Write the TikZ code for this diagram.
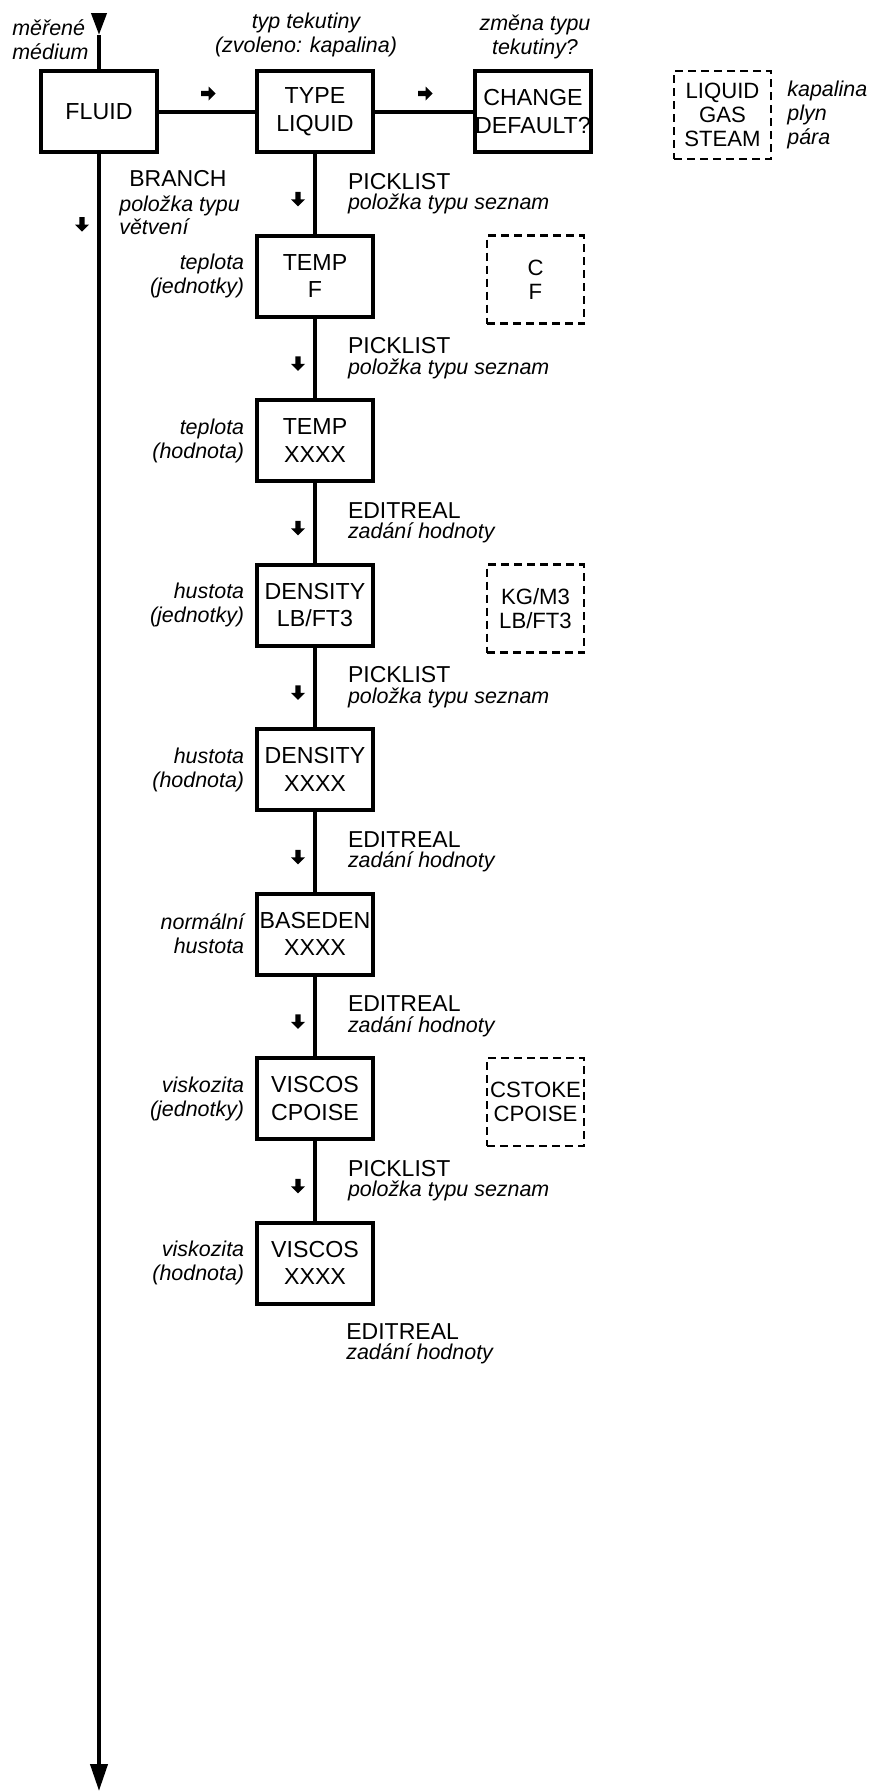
\documentclass[tikz,border=0pt]{standalone}
\usepackage{fontspec}
\setmainfont{Liberation Sans}
\usetikzlibrary{arrows.meta, positioning, shapes.arrows}
\newcommand{\itfont}{\itshape\fontsize{12.2pt}{13.6pt}\selectfont}
\newcommand{\flowtxt}[2]{#1\\{\itfont #2}}

\begin{document}
\begin{tikzpicture}[node distance=1.67cm,
    menubox/.style={draw, line width=0.08cm, outer sep=0pt, minimum width=2.32cm,
        minimum height=1.62cm, inner sep=0pt, align=center,
        font=\fontsize{13.2pt}{15.6pt}\selectfont},
    optbox/.style={draw, dash pattern=on 0.16cm off 0.1cm, line width=1.2pt,
        outer sep=0pt, minimum width=1.94cm, minimum height=1.76cm, inner sep=0pt,
        align=center, font=\fontsize{12.6pt}{13.7pt}\selectfont},
    sidenote/.style={inner sep=0pt, font=\itfont},
    flowlbl/.style={inner sep=0pt, align=left,
        font=\fontsize{13.1pt}{11.5pt}\selectfont},
    flowptr/.style={single arrow, fill=black, draw=none, inner sep=0pt,
        minimum height=0.29cm, minimum width=0.28cm,
        single arrow head extend=0.07cm, single arrow head indent=0pt},
    ptdown/.style={flowptr, shape border rotate=270},
    wire/.style={line width=0.08cm}]
    \useasboundingbox (0,0) rectangle (17.42,-35.84);
    % Hlavni vetev
    \coordinate (mtop) at (1.98,-0.26);
    \coordinate (mtip) at (1.98,-0.70);
    \coordinate (mend) at (1.98,-35.82);
    \node[menubox] (fluid) at (1.98,-2.23) {FLUID};
    \node[sidenote, align=left, anchor=south west] at (0.24,-1.2) {měřené\\médium};
    \node[flowlbl, align=left, below right=0.37cm and 0.4cm of fluid.south,
          font=\fontsize{13.1pt}{13pt}\selectfont] (branch)
          {\hspace*{0.2cm}BRANCH\\[1pt]{\itfont položka typu}\\{\itfont větvení}};
    % Typ tekutiny
    \node[menubox, right=2.0cm of fluid] (type) {TYPE\\LIQUID};
    \node[sidenote, align=center, above=0.28cm of type, xshift=-0.18cm]
          {typ tekutiny\\(zvoleno: kapalina)};
    \node[menubox, right=2.04cm of type] (change) {CHANGE\\DEFAULT?};
    \node[sidenote, align=center, above=0.23cm of change, xshift=0.04cm]
          {změna typu\\tekutiny?};
    \node[optbox, below right=0cm and 1.66cm of change.north east] (fluidset)
          {LIQUID\\GAS\\STEAM};
    \node[sidenote, align=left, right=0.32cm of fluidset,
          font=\itshape\fontsize{12.2pt}{13.7pt}\selectfont] {kapalina\\plyn\\pára};
    % Sloupec polozek
    \node[menubox, below=of type] (tempu) {TEMP\\F};
    \node[menubox, below=of tempu] (tempv) {TEMP\\XXXX};
    \node[menubox, below=of tempv] (densu) {DENSITY\\LB/FT3};
    \node[menubox, below=of densu] (densv) {DENSITY\\XXXX};
    \node[menubox, below=of densv] (based) {BASEDEN\\XXXX};
    \node[menubox, below=of based] (viscu) {VISCOS\\CPOISE};
    \node[menubox, below=of viscu] (viscv) {VISCOS\\XXXX};
    % Popisky vlevo
    \node[sidenote, align=right, left=0.25cm of tempu] {teplota\\(jednotky)};
    \node[sidenote, align=right, left=0.25cm of tempv] {teplota\\(hodnota)};
    \node[sidenote, align=right, left=0.25cm of densu] {hustota\\(jednotky)};
    \node[sidenote, align=right, left=0.25cm of densv] {hustota\\(hodnota)};
    \node[sidenote, align=right, left=0.25cm of based] {normální\\hustota};
    \node[sidenote, align=right, left=0.25cm of viscu] {viskozita\\(jednotky)};
    \node[sidenote, align=right, left=0.25cm of viscv] {viskozita\\(hodnota)};
    % Volby
    \node[optbox, below right=0cm and 2.28cm of tempu.north east] (tempset) {C\\F};
    \node[optbox, below right=0cm and 2.28cm of densu.north east] (densset) {KG/M3\\LB/FT3};
    \node[optbox, below right=0cm and 2.28cm of viscu.north east] (viscset) {CSTOKE\\CPOISE};
    % Spojnice
    \draw[wire, -{Triangle[length=0.44cm, width=0.3cm]}] (mtop) -- (mtip);
    \draw[wire] (mtip) -- (fluid);
    \draw[wire, -{Triangle[length=0.54cm, width=0.34cm]}] (fluid) -- (mend)
          node[pos=0.0433, ptdown, xshift=-0.34cm] {};
    \draw[wire] (fluid) -- (type) node[midway, flowptr, yshift=0.36cm] {};
    \draw[wire] (type) -- (change) node[midway, flowptr, yshift=0.36cm] {};
    \draw[wire] (type) -- (tempu)
          node[midway, ptdown, xshift=-0.34cm, yshift=-0.08cm] {}
          node[midway, flowlbl, right=0.62cm] {\flowtxt{PICKLIST}{položka typu seznam}};
    \draw[wire] (tempu) -- (tempv)
          node[midway, ptdown, xshift=-0.34cm, yshift=-0.08cm] {}
          node[midway, flowlbl, right=0.62cm] {\flowtxt{PICKLIST}{položka typu seznam}};
    \draw[wire] (tempv) -- (densu)
          node[midway, ptdown, xshift=-0.34cm, yshift=-0.08cm] {}
          node[midway, flowlbl, right=0.62cm] {\flowtxt{EDITREAL}{zadání hodnoty}};
    \draw[wire] (densu) -- (densv)
          node[midway, ptdown, xshift=-0.34cm, yshift=-0.08cm] {}
          node[midway, flowlbl, right=0.62cm] {\flowtxt{PICKLIST}{položka typu seznam}};
    \draw[wire] (densv) -- (based)
          node[midway, ptdown, xshift=-0.34cm, yshift=-0.08cm] {}
          node[midway, flowlbl, right=0.62cm] {\flowtxt{EDITREAL}{zadání hodnoty}};
    \draw[wire] (based) -- (viscu)
          node[midway, ptdown, xshift=-0.34cm, yshift=-0.08cm] {}
          node[midway, flowlbl, right=0.62cm] {\flowtxt{EDITREAL}{zadání hodnoty}};
    \draw[wire] (viscu) -- (viscv)
          node[midway, ptdown, xshift=-0.34cm, yshift=-0.08cm] {}
          node[midway, flowlbl, right=0.62cm] {\flowtxt{PICKLIST}{položka typu seznam}};
    \node[flowlbl, below right=0.4cm and 0.62cm of viscv.south]
          {\flowtxt{EDITREAL}{zadání hodnoty}};
\end{tikzpicture}
\end{document}
